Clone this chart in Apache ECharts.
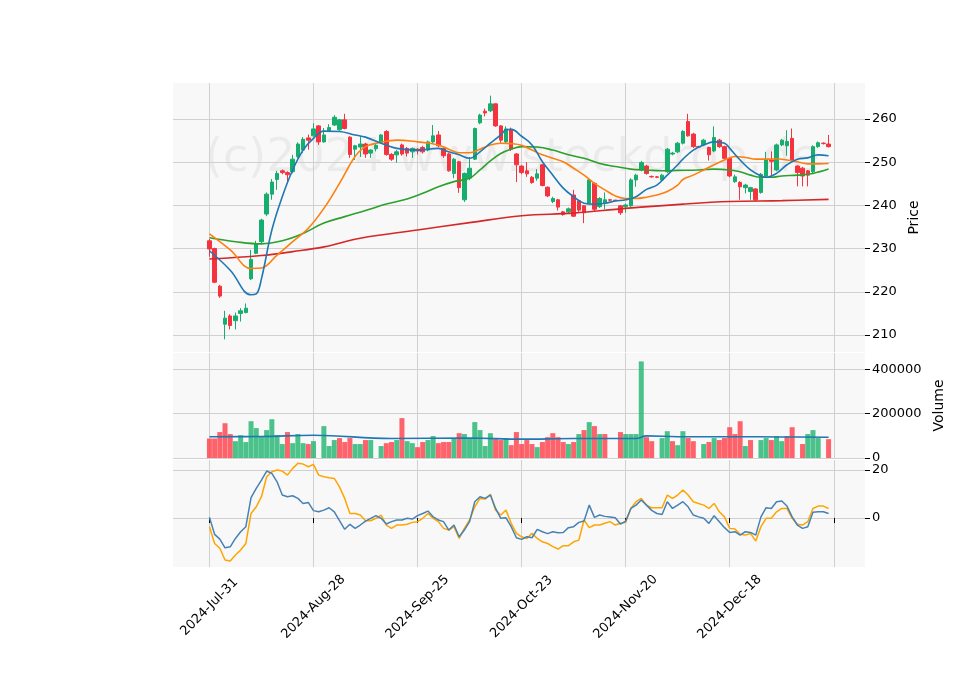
<!DOCTYPE html>
<html><head><meta charset="utf-8">
<script src="https://cdn.jsdelivr.net/npm/echarts@6/dist/echarts.min.js"></script>
<style>html,body{margin:0;padding:0;background:#fff}#c{width:960px;height:690px}</style>
</head><body><div id="c"></div>
<script>
const tickLabels = ['2024-Jul-31','2024-Aug-28','2024-Sep-25','2024-Oct-23','2024-Nov-20','2024-Dec-18'];
const openP  = [231.8,230,221.3,212.5,214.4,213.3,215,215.2,223,228.9,231.6,238,242.6,246,248,247.6,247.8,251.3,252.8,255.6,256.1,258.4,254.7,257.3,258.6,257.5,259.8,255.8,253,253.5,254.2,252.1,253.1,254.6,257.1,251.8,251.7,254,253.2,252.4,253,253.4,252.8,254.7,256.3,253.2,251.9,247.4,250.1,241.3,246.3,250.7,259.1,261.8,261.9,263.5,258.4,254.7,257.6,251.9,249.1,248,246.5,246.3,249.4,244.2,240.9,241.3,238.5,238.5,242.4,241.1,239.9,240.5,245.1,239.7,240.6,241.3,241.2,239.9,239.7,239.9,245.9,248.2,249.1,246.7,246.6,245.9,247.8,251.9,252.4,254.4,259.4,256.5,253.6,254,253.4,252.6,255.1,253.6,250.9,245.5,245.3,244.1,243.2,243.8,243,246.8,250.5,248.2,254,253.8,255.5,249.1,248.6,248,247.8,253.6,254.4,254.2];
const closeP = [229.9,222.2,219,213.9,212.2,214.4,215.6,216.2,227.5,231.1,236.6,242.6,245.4,247.4,247.6,247.1,250.7,254.2,255.3,255.1,257.7,254.7,256.3,258,260.4,259.8,257.8,251.8,253.8,254.2,251.9,252.8,253.9,256.3,251.8,250.7,252.4,251.9,252.1,253.2,252.6,252.4,254.7,256.1,253.8,251.5,248,250.7,244.1,247.4,248.6,257.8,260.9,261.4,263.5,258.4,255.1,257.7,253,249.4,247.6,247.3,245.3,247.3,244.6,242.2,241.6,239.6,237.9,239.2,237.5,238.9,238.3,245.9,239.1,241.6,241.3,241.2,241.1,238.3,240.1,245.9,247,249.9,247.4,246.6,246.5,247,253,252.1,254.4,257.1,256.1,253.6,253.5,255.1,251.7,255.7,253.6,250.9,246.8,246.6,244.3,244.7,244.1,241.3,247.2,250.5,250.2,254,255.1,254.8,250.5,247.6,246.8,247.0,253.6,254.5,254.3,253.6];
const lowP   = [228.1,222,218.6,209,211.3,211.3,213.1,215,222.7,228.7,231.3,237.5,241.3,243.6,247.2,245,247.4,250.9,252.1,252.9,255.9,254,254.5,257,258.4,257.3,257.6,251,250.5,251.2,251,251,252.5,254.3,251.5,250.3,249.9,251.5,251.3,251,251.8,252,252.5,254.3,253.5,251,247.8,246.3,242.9,240.8,245.8,250.5,258.8,260.6,261.6,258.2,254.5,254.3,252.6,245.4,247.2,246.6,245,245.7,244.4,241.9,240.5,238.8,237.6,238.2,237.3,238.5,235.9,240.2,238.6,239.4,239.1,241,241,237.8,238.3,239.6,244.3,247.9,247.1,246.4,246.3,245.6,247.5,251.6,252.1,254.1,255.9,253.3,253.3,253.7,250.4,252.3,253.3,250.6,246.5,245.2,241.3,242.8,241.3,241,242.7,246.5,246.8,247.9,253.7,251.5,250.2,244.4,244.4,244.4,247.5,253.3,254.1,253.4];
const highP  = [232.2,230.2,221.6,215.6,214.8,215.2,216.2,217.3,229.7,231.8,236.9,243,246.1,248,248.3,247.9,251.7,254.6,255.8,256.4,259,258.6,257.9,258.8,260.9,260,261.2,256,254,256,254.5,253,254.2,256.5,257.4,252.1,252.8,254.3,253.5,253.4,253.2,253.8,255,258.6,257.2,253.4,252.2,251,250.3,247.6,251.2,258,261.2,262.4,265.4,263.6,258.6,258.3,258,252.1,249.3,250,246.8,248.4,249.6,244.4,242,241.5,238.7,239.5,243.6,241.3,240.1,246.2,245.3,241.9,243,241.4,241.3,240.1,240.4,246.3,247.3,250.3,249.4,246.9,246.8,247.3,253.3,252.4,254.7,257.4,261.2,256.8,253.8,255.4,253.6,258.3,255.4,253.8,251.1,247.1,245.6,245,244.3,244,247.5,252.4,252.5,254.3,255.4,257.4,257.8,249.3,248.9,248.2,253.9,254.8,254.6,256.3];
const volume = [88,88,117,157,108,76,103,72,166,135,97,126,175,103,63,117,67,108,67,63,76,null,144,54,81,90,72,90,63,63,81,81,null,54,67,72,81,180,76,67,49,72,81,99,67,72,72,90,112,108,90,162,126,54,112,85,81,90,58,117,63,81,63,49,72,94,112,94,72,63,72,108,126,162,144,108,108,null,null,117,108,108,108,436,94,76,null,90,121,76,58,121,90,76,null,63,72,90,81,90,139,108,166,54,81,null,81,90,81,99,76,99,139,null,63,108,126,90,null,85];
const volMAIdx = [0,10,20,35,50,60,70,82,84,90,100,110,119];
const volMAVal = [96,97,103,88,90,85,88,88,100,96,96,95,94];
const ma1Idx = [0,4,8,9,10,12,14,16,18,20,22,25,28,30,33,36,40,44,46,48,50,52,54,56,57,58,60,62,64,66,68,70,72,74,76,78,80,82,84,86,88,90,91,93,95,97,99,100,102,104,106,107,109,111,113,115,117,119];
const ma1Val = [229.5,225,219.3,219.5,223,234.3,242,248.2,252.8,255.5,257.2,257.1,256.3,255.8,254.4,253.2,252.8,253.2,252.4,251.7,250.9,252.4,254.4,256.3,257.5,257.6,256,254,250.1,247,244,242,240.5,240.3,240.5,241,241.3,242,243.7,244.7,247,249.4,250.7,252.8,254,254.7,254.4,253.2,250.5,248.2,246.8,246.5,247.4,249.4,250.7,251,251.7,251.5];
const ma2Idx = [0,4,8,10,13,16,19,22,25,28,30,33,36,40,44,46,48,50,52,54,56,58,60,62,64,66,68,70,72,74,76,78,80,82,84,86,88,90,91,93,95,97,99,101,103,105,107,109,111,113,115,117,119];
const ma2Val = [233.4,229.7,225.4,225.5,228.5,231.6,234.7,239.3,245.1,251.3,253.6,254.6,255.1,254.7,254,253,252.2,252.2,253,254,254.4,254.3,253.9,252.8,251.7,250.9,250.1,248.6,247,245.1,243.6,242.2,241.6,241.6,241.9,242.4,243.2,244.7,246,247,248.2,249.4,250.5,251.3,251.1,250.7,250.7,250.8,250.5,250.1,249.6,249.6,249.7];
const ma3Idx = [0,5,10,14,18,22,26,30,34,38,41,44,47,50,52,54,56,58,60,63,66,69,72,75,78,81,84,87,90,94,97,100,102,104,106,108,110,113,116,119];
const ma3Val = [232.5,231.6,231.1,231.8,233.5,235.9,237.4,238.8,240.3,241.5,242.8,244.3,245.5,246.3,248.2,250.3,252,253,253.6,253.5,252.8,251.7,250.9,249.7,249,248.4,248.2,248,248.1,248.2,248.4,248.2,247.8,247,246.5,246.5,246.8,247,247.4,248.4];
const ma4Idx = [0,10,16,22,29,40,50,60,70,80,91,100,110,119];
const ma4Val = [227.6,228.4,229.3,230.4,232.4,234.3,236,237.6,238.2,239.3,240.3,240.9,241.1,241.4];
const oscA = [0.3,-6.8,-8.8,-12.4,-12,-8.5,-5.7,-3.6,8.5,12.4,15.8,19.6,18.6,15.1,9.6,8.9,9.3,8.2,6.1,6.5,3.1,2.6,3.3,4.3,2.6,-1.1,-4.7,-2.6,-4.3,-2.9,-1.25,-0.1,1,-0.1,-2.5,-1.5,-0.8,-0.8,-0.1,-0.4,1,1.9,2.9,0.5,-0.8,-1.5,-5,-2.9,-7.8,-5,-1.5,6.8,8.9,8.2,9.6,4,-0.1,0.1,-3.6,-8.2,-8.9,-7.8,-8.2,-4.7,-5.7,-6.5,-5.7,-6.1,-6,-4,-3.6,-1.8,-1.25,5.4,0.3,1.25,0.7,0.4,0.1,-2.5,-1.25,4,5.4,7.5,5.4,3.2,1.9,1.5,6.8,4,5.4,6.8,4.7,1.25,0.5,-0.1,-2.2,1,-1.5,-4,-6,-5.7,-7.1,-5.7,-6,-7.1,0.5,4.3,4,6.8,7.1,5,0.5,-2.9,-4.3,-3.6,2.4,2.6,2.6,1.9];
const oscB = [-3.6,-10.6,-12.6,-17.5,-17.9,-15.4,-13.3,-10.6,1.9,4.7,8.9,17.2,19.3,20,19.6,17.9,20.7,22.8,22.5,21.4,22.4,17.9,17.2,16.8,16.5,13,8.2,1.9,1.9,1.25,-1.1,-1.1,-0.1,1.25,-2.9,-4.3,-2.9,-2.9,-2.6,-1.8,-1.5,-0.1,1.9,-0.1,-1.5,-4.3,-5,-3.6,-8.5,-4.3,-0.8,4.7,8.2,7.9,9.9,3.3,1.25,3.3,-2.2,-6.4,-7.8,-8.5,-6.4,-8.5,-9.9,-10.6,-11.9,-12.9,-11.5,-11.5,-9.9,-9.2,-0.8,-4,-2.9,-2.9,-2.2,-1.5,-2.9,-2.2,-1.8,4,6.8,8.2,5.4,4.3,4.3,4.3,9.6,8.2,9.6,11.7,9.6,6.8,6.1,5.4,4,6.1,2.6,0.5,-4.3,-4.6,-6.8,-7.1,-6.4,-9.6,-3.6,-0.1,-0.1,2.6,4,4,-0.1,-2.6,-2.9,-1.5,4,5,5,4];

const PAD = 7, NCAT = 134;
const cats = Array.from({length: NCAT}, (_, i) => String(i));
const pad = a => { const r = new Array(NCAT).fill('-'); a.forEach((v, i) => { r[i + PAD] = v == null ? '-' : v; }); return r; };
const pairs = (ix, vs) => ix.map((x, k) => [x + PAD, vs[k]]);
const isTick = i => i >= PAD && i <= PAD + 120 && (i - PAD) % 20 === 0;
const isLabel = i => isTick(i) && (i - PAD) / 20 < tickLabels.length;

const UP = '#17ad6f', DOWN = '#f5333f';
const candles = pad(openP.map((o, i) => [o, closeP[i], lowP[i], highP[i]]));
const volData = pad(volume.map((v, i) => v == null ? null : {
  value: v * 1000,
  itemStyle: { color: (i > 0 && closeP[i] > closeP[i - 1]) ? 'rgba(30,180,110,0.8)' : 'rgba(255,60,70,0.8)' }
}));

const gridL = 173, gridW = 692;
const font = { fontFamily: 'DejaVu Sans', fontSize: 13, color: '#000' };
const splitCol = '#d0d0d0';
function xAx(gi, showLabel) {
  return {
    type: 'category', gridIndex: gi, data: cats, boundaryGap: false,
    axisLine: { show: false },
    axisTick: { show: showLabel, interval: i => isTick(i), length: 5, lineStyle: { color: '#000' } },
    axisLabel: showLabel ? { ...font, interval: i => isLabel(i), rotate: 45, margin: 40,
      align: 'center', verticalAlign: 'middle',
      formatter: (v, i) => tickLabels[(Number(v) - PAD) / 20] } : { show: false },
    splitLine: { show: true, interval: i => isTick(i), lineStyle: { color: splitCol, width: 1 } }
  };
}
function yAx(gi, min, max, ticks, name, gap) {
  return {
    type: 'value', gridIndex: gi, position: 'right', min, max, scale: true,
    name: name, nameLocation: 'middle', nameRotate: 90, nameGap: gap,
    nameTextStyle: { fontFamily: 'DejaVu Sans', fontSize: 14, color: '#000' },
    axisLine: { show: false },
    axisTick: { show: true, customValues: ticks, length: 5, lineStyle: { color: '#000' } },
    axisLabel: { ...font, customValues: ticks, margin: 7, formatter: v => String(v) },
    splitLine: { show: true, lineStyle: { color: splitCol, width: 1 } }
  };
}
const chart = echarts.init(document.getElementById('c'));
chart.setOption({
  animation: false,
  backgroundColor: '#fff',
  graphic: [{ type: 'text', left: 205, top: 136, z: 0, silent: true,
    style: { text: '(c)2024 www.stockdrop.de', fontFamily: 'DejaVu Sans', fontSize: 46, fill: 'rgba(0,0,0,0.05)' } }],
  grid: [
    { left: gridL, width: gridW, top: 83, height: 269, show: true, backgroundColor: '#f8f8f8', borderWidth: 0 },
    { left: gridL, width: gridW, top: 353, height: 105, show: true, backgroundColor: '#f8f8f8', borderWidth: 0 },
    { left: gridL, width: gridW, top: 460, height: 107, show: true, backgroundColor: '#f8f8f8', borderWidth: 0 }
  ],
  xAxis: [xAx(0, false), xAx(1, false), xAx(2, true)],
  yAxis: [
    yAx(0, 206.06, 268.33, [210, 220, 230, 240, 250, 260], 'Price', 40),
    yAx(1, 0, 474000, [0, 200000, 400000], 'Volume', 58),
    yAx(2, -20.4, 24.2, [0, 20], '', 0)
  ],
  series: [
    { type: 'candlestick', xAxisIndex: 0, yAxisIndex: 0, data: candles, barWidth: 4, z: 3,
      itemStyle: { color: UP, color0: DOWN, borderColor: UP, borderColor0: DOWN, borderColorDoji: DOWN, borderWidth: 1 } },
    { type: 'line', xAxisIndex: 0, yAxisIndex: 0, data: pairs(ma4Idx, ma4Val), smooth: 0.4, showSymbol: false, lineStyle: { color: '#d62728', width: 1.6 }, z: 4 },
    { type: 'line', xAxisIndex: 0, yAxisIndex: 0, data: pairs(ma3Idx, ma3Val), smooth: 0.4, showSymbol: false, lineStyle: { color: '#2ca02c', width: 1.6 }, z: 4 },
    { type: 'line', xAxisIndex: 0, yAxisIndex: 0, data: pairs(ma2Idx, ma2Val), smooth: 0.4, showSymbol: false, lineStyle: { color: '#ff7f0e', width: 1.6 }, z: 4 },
    { type: 'line', xAxisIndex: 0, yAxisIndex: 0, data: pairs(ma1Idx, ma1Val), smooth: 0.4, showSymbol: false, lineStyle: { color: '#1f77b4', width: 1.6 }, z: 4 },
    { type: 'bar', xAxisIndex: 1, yAxisIndex: 1, data: volData, barWidth: 5, z: 3 },
    { type: 'line', xAxisIndex: 1, yAxisIndex: 1, data: pairs(volMAIdx, volMAVal.map(v => v * 1000)), smooth: 0.4, showSymbol: false, lineStyle: { color: '#1f77b4', width: 1.6 }, z: 4 },
    { type: 'line', xAxisIndex: 2, yAxisIndex: 2, data: pad(oscB), showSymbol: false, lineStyle: { color: '#ffa500', width: 1.5 }, z: 4 },
    { type: 'line', xAxisIndex: 2, yAxisIndex: 2, data: pad(oscA), showSymbol: false, lineStyle: { color: '#4682b4', width: 1.5 }, z: 5 }
  ]
});
</script></body></html>
